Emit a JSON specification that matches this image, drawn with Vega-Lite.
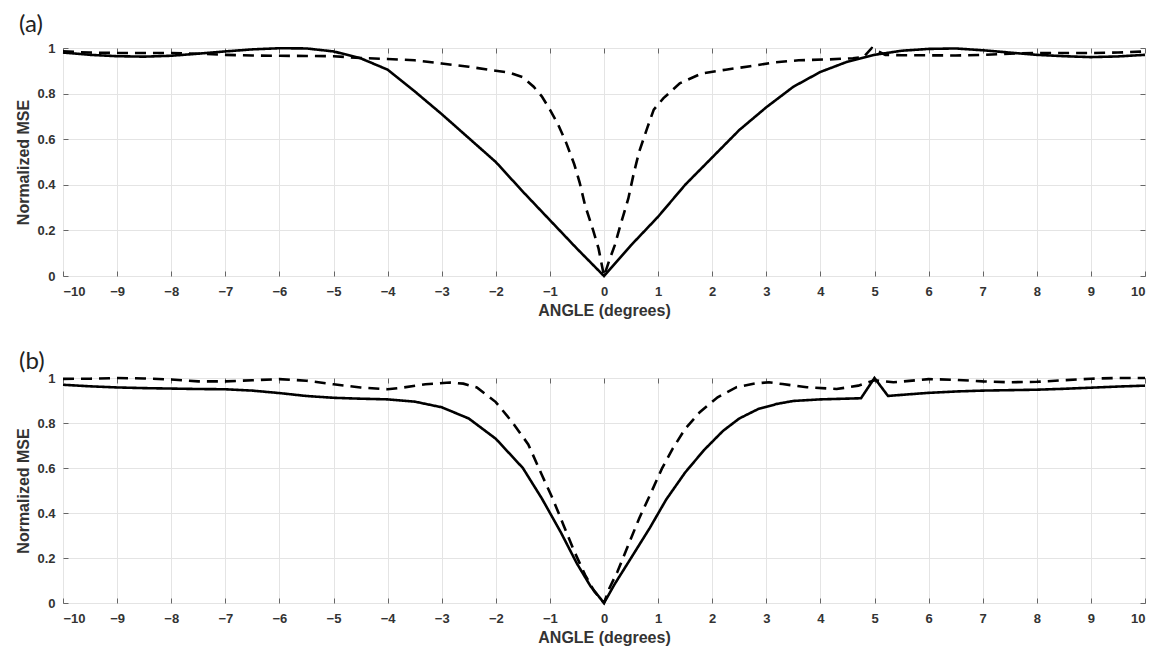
{
  "$schema": "https://vega.github.io/schema/vega-lite/v6.json",
  "background": "white",
  "padding": {"left": 15, "top": 12, "right": 5, "bottom": 3},
  "config": {
    "view": {"stroke": "#555", "strokeWidth": 1},
    "axis": {
      "labelFont": "Liberation Sans", "labelFontWeight": "bold", "labelFontSize": 13, "labelColor": "#333",
      "titleFont": "Liberation Sans", "titleFontWeight": "bold", "titleFontSize": 16, "titleColor": "#333",
      "gridColor": "#e4e4e4", "gridWidth": 1, "domain": false, "tickColor": "#666", "tickSize": -5
    },
    "title": {"font": "Lato", "fontSize": 24, "fontWeight": "normal", "color": "#222", "anchor": "start", "frame": "group"}
  },
  "datasets": {
    "a": [
      {"angle": -10, "mse": 0.98, "series": "solid"}, {"angle": -9.5, "mse": 0.97, "series": "solid"}, {"angle": -9, "mse": 0.964, "series": "solid"}, {"angle": -8.5, "mse": 0.962, "series": "solid"}, {"angle": -8, "mse": 0.966, "series": "solid"}, {"angle": -7.5, "mse": 0.975, "series": "solid"}, {"angle": -7, "mse": 0.985, "series": "solid"}, {"angle": -6.5, "mse": 0.994, "series": "solid"}, {"angle": -6, "mse": 0.999, "series": "solid"}, {"angle": -5.5, "mse": 0.998, "series": "solid"}, {"angle": -5, "mse": 0.985, "series": "solid"}, {"angle": -4.5, "mse": 0.955, "series": "solid"}, {"angle": -4, "mse": 0.905, "series": "solid"}, {"angle": -3.5, "mse": 0.81, "series": "solid"}, {"angle": -3, "mse": 0.71, "series": "solid"}, {"angle": -2.5, "mse": 0.605, "series": "solid"}, {"angle": -2, "mse": 0.5, "series": "solid"}, {"angle": -1.5, "mse": 0.37, "series": "solid"}, {"angle": -1, "mse": 0.245, "series": "solid"}, {"angle": -0.5, "mse": 0.12, "series": "solid"}, {"angle": 0, "mse": 0.0, "series": "solid"}, {"angle": 0.5, "mse": 0.135, "series": "solid"}, {"angle": 1, "mse": 0.26, "series": "solid"}, {"angle": 1.5, "mse": 0.4, "series": "solid"}, {"angle": 2, "mse": 0.52, "series": "solid"}, {"angle": 2.5, "mse": 0.64, "series": "solid"}, {"angle": 3, "mse": 0.74, "series": "solid"}, {"angle": 3.5, "mse": 0.83, "series": "solid"}, {"angle": 4, "mse": 0.895, "series": "solid"}, {"angle": 4.5, "mse": 0.94, "series": "solid"}, {"angle": 5, "mse": 0.97, "series": "solid"}, {"angle": 5.5, "mse": 0.988, "series": "solid"}, {"angle": 6, "mse": 0.996, "series": "solid"}, {"angle": 6.5, "mse": 0.998, "series": "solid"}, {"angle": 7, "mse": 0.99, "series": "solid"}, {"angle": 7.5, "mse": 0.98, "series": "solid"}, {"angle": 8, "mse": 0.97, "series": "solid"}, {"angle": 8.5, "mse": 0.964, "series": "solid"}, {"angle": 9, "mse": 0.96, "series": "solid"}, {"angle": 9.5, "mse": 0.963, "series": "solid"}, {"angle": 10, "mse": 0.97, "series": "solid"},
      {"angle": -10, "mse": 0.985, "series": "dashed"}, {"angle": -9.5, "mse": 0.98, "series": "dashed"}, {"angle": -9, "mse": 0.978, "series": "dashed"}, {"angle": -8.5, "mse": 0.978, "series": "dashed"}, {"angle": -8, "mse": 0.978, "series": "dashed"}, {"angle": -7.5, "mse": 0.975, "series": "dashed"}, {"angle": -7, "mse": 0.97, "series": "dashed"}, {"angle": -6.5, "mse": 0.967, "series": "dashed"}, {"angle": -6, "mse": 0.966, "series": "dashed"}, {"angle": -5.5, "mse": 0.965, "series": "dashed"}, {"angle": -5, "mse": 0.964, "series": "dashed"}, {"angle": -4.5, "mse": 0.956, "series": "dashed"}, {"angle": -4, "mse": 0.952, "series": "dashed"}, {"angle": -3.5, "mse": 0.946, "series": "dashed"}, {"angle": -3, "mse": 0.932, "series": "dashed"}, {"angle": -2.5, "mse": 0.918, "series": "dashed"}, {"angle": -2, "mse": 0.9, "series": "dashed"}, {"angle": -1.75, "mse": 0.892, "series": "dashed"}, {"angle": -1.5, "mse": 0.872, "series": "dashed"}, {"angle": -1.3, "mse": 0.83, "series": "dashed"}, {"angle": -1.15, "mse": 0.788, "series": "dashed"}, {"angle": -1, "mse": 0.73, "series": "dashed"}, {"angle": -0.85, "mse": 0.665, "series": "dashed"}, {"angle": -0.7, "mse": 0.585, "series": "dashed"}, {"angle": -0.55, "mse": 0.49, "series": "dashed"}, {"angle": -0.45, "mse": 0.41, "series": "dashed"}, {"angle": -0.35, "mse": 0.31, "series": "dashed"}, {"angle": -0.2, "mse": 0.2, "series": "dashed"}, {"angle": -0.1, "mse": 0.12, "series": "dashed"}, {"angle": 0, "mse": 0.0, "series": "dashed"}, {"angle": 0.1, "mse": 0.07, "series": "dashed"}, {"angle": 0.2, "mse": 0.135, "series": "dashed"}, {"angle": 0.3, "mse": 0.22, "series": "dashed"}, {"angle": 0.45, "mse": 0.34, "series": "dashed"}, {"angle": 0.55, "mse": 0.45, "series": "dashed"}, {"angle": 0.65, "mse": 0.545, "series": "dashed"}, {"angle": 0.8, "mse": 0.65, "series": "dashed"}, {"angle": 0.92, "mse": 0.73, "series": "dashed"}, {"angle": 1.1, "mse": 0.78, "series": "dashed"}, {"angle": 1.4, "mse": 0.845, "series": "dashed"}, {"angle": 1.8, "mse": 0.888, "series": "dashed"}, {"angle": 2.25, "mse": 0.905, "series": "dashed"}, {"angle": 2.7, "mse": 0.92, "series": "dashed"}, {"angle": 3.15, "mse": 0.937, "series": "dashed"}, {"angle": 3.6, "mse": 0.946, "series": "dashed"}, {"angle": 4.15, "mse": 0.95, "series": "dashed"}, {"angle": 4.6, "mse": 0.955, "series": "dashed"}, {"angle": 4.8, "mse": 0.96, "series": "dashed"}, {"angle": 4.95, "mse": 1.0, "series": "dashed"}, {"angle": 5.2, "mse": 0.97, "series": "dashed"}, {"angle": 5.5, "mse": 0.968, "series": "dashed"}, {"angle": 6, "mse": 0.968, "series": "dashed"}, {"angle": 6.5, "mse": 0.967, "series": "dashed"}, {"angle": 7, "mse": 0.97, "series": "dashed"}, {"angle": 7.5, "mse": 0.975, "series": "dashed"}, {"angle": 8, "mse": 0.978, "series": "dashed"}, {"angle": 8.5, "mse": 0.978, "series": "dashed"}, {"angle": 9, "mse": 0.978, "series": "dashed"}, {"angle": 9.5, "mse": 0.98, "series": "dashed"}, {"angle": 10, "mse": 0.985, "series": "dashed"}
    ],
    "b": [
      {"angle": -10, "mse": 0.97, "series": "solid"}, {"angle": -9.5, "mse": 0.963, "series": "solid"}, {"angle": -9, "mse": 0.958, "series": "solid"}, {"angle": -8.5, "mse": 0.955, "series": "solid"}, {"angle": -8, "mse": 0.953, "series": "solid"}, {"angle": -7.5, "mse": 0.951, "series": "solid"}, {"angle": -7, "mse": 0.95, "series": "solid"}, {"angle": -6.5, "mse": 0.944, "series": "solid"}, {"angle": -6, "mse": 0.933, "series": "solid"}, {"angle": -5.5, "mse": 0.92, "series": "solid"}, {"angle": -5, "mse": 0.912, "series": "solid"}, {"angle": -4.5, "mse": 0.908, "series": "solid"}, {"angle": -4, "mse": 0.905, "series": "solid"}, {"angle": -3.5, "mse": 0.895, "series": "solid"}, {"angle": -3, "mse": 0.87, "series": "solid"}, {"angle": -2.5, "mse": 0.82, "series": "solid"}, {"angle": -2, "mse": 0.73, "series": "solid"}, {"angle": -1.5, "mse": 0.6, "series": "solid"}, {"angle": -1.15, "mse": 0.465, "series": "solid"}, {"angle": -0.8, "mse": 0.315, "series": "solid"}, {"angle": -0.5, "mse": 0.175, "series": "solid"}, {"angle": -0.25, "mse": 0.075, "series": "solid"}, {"angle": 0, "mse": 0.0, "series": "solid"}, {"angle": 0.2, "mse": 0.085, "series": "solid"}, {"angle": 0.5, "mse": 0.2, "series": "solid"}, {"angle": 0.85, "mse": 0.335, "series": "solid"}, {"angle": 1.15, "mse": 0.46, "series": "solid"}, {"angle": 1.5, "mse": 0.58, "series": "solid"}, {"angle": 1.85, "mse": 0.68, "series": "solid"}, {"angle": 2.2, "mse": 0.765, "series": "solid"}, {"angle": 2.5, "mse": 0.82, "series": "solid"}, {"angle": 2.85, "mse": 0.862, "series": "solid"}, {"angle": 3.2, "mse": 0.885, "series": "solid"}, {"angle": 3.5, "mse": 0.898, "series": "solid"}, {"angle": 4, "mse": 0.905, "series": "solid"}, {"angle": 4.75, "mse": 0.91, "series": "solid"}, {"angle": 5, "mse": 1.0, "series": "solid"}, {"angle": 5.25, "mse": 0.92, "series": "solid"}, {"angle": 5.5, "mse": 0.925, "series": "solid"}, {"angle": 6, "mse": 0.934, "series": "solid"}, {"angle": 6.5, "mse": 0.94, "series": "solid"}, {"angle": 7, "mse": 0.944, "series": "solid"}, {"angle": 7.5, "mse": 0.946, "series": "solid"}, {"angle": 8, "mse": 0.948, "series": "solid"}, {"angle": 8.5, "mse": 0.952, "series": "solid"}, {"angle": 9, "mse": 0.957, "series": "solid"}, {"angle": 9.5, "mse": 0.962, "series": "solid"}, {"angle": 10, "mse": 0.966, "series": "solid"},
      {"angle": -10, "mse": 0.996, "series": "dashed"}, {"angle": -9.5, "mse": 0.997, "series": "dashed"}, {"angle": -9, "mse": 1.0, "series": "dashed"}, {"angle": -8.5, "mse": 0.998, "series": "dashed"}, {"angle": -8, "mse": 0.993, "series": "dashed"}, {"angle": -7.5, "mse": 0.985, "series": "dashed"}, {"angle": -7, "mse": 0.985, "series": "dashed"}, {"angle": -6.5, "mse": 0.99, "series": "dashed"}, {"angle": -6, "mse": 0.995, "series": "dashed"}, {"angle": -5.5, "mse": 0.988, "series": "dashed"}, {"angle": -5, "mse": 0.972, "series": "dashed"}, {"angle": -4.5, "mse": 0.958, "series": "dashed"}, {"angle": -4, "mse": 0.95, "series": "dashed"}, {"angle": -3.7, "mse": 0.958, "series": "dashed"}, {"angle": -3.3, "mse": 0.972, "series": "dashed"}, {"angle": -2.85, "mse": 0.98, "series": "dashed"}, {"angle": -2.6, "mse": 0.975, "series": "dashed"}, {"angle": -2.35, "mse": 0.958, "series": "dashed"}, {"angle": -2, "mse": 0.893, "series": "dashed"}, {"angle": -1.7, "mse": 0.805, "series": "dashed"}, {"angle": -1.4, "mse": 0.705, "series": "dashed"}, {"angle": -1.15, "mse": 0.57, "series": "dashed"}, {"angle": -0.95, "mse": 0.465, "series": "dashed"}, {"angle": -0.75, "mse": 0.347, "series": "dashed"}, {"angle": -0.55, "mse": 0.23, "series": "dashed"}, {"angle": -0.35, "mse": 0.125, "series": "dashed"}, {"angle": -0.18, "mse": 0.052, "series": "dashed"}, {"angle": 0, "mse": 0.0, "series": "dashed"}, {"angle": 0.1, "mse": 0.066, "series": "dashed"}, {"angle": 0.25, "mse": 0.14, "series": "dashed"}, {"angle": 0.45, "mse": 0.258, "series": "dashed"}, {"angle": 0.65, "mse": 0.376, "series": "dashed"}, {"angle": 0.85, "mse": 0.48, "series": "dashed"}, {"angle": 1.07, "mse": 0.597, "series": "dashed"}, {"angle": 1.27, "mse": 0.686, "series": "dashed"}, {"angle": 1.5, "mse": 0.774, "series": "dashed"}, {"angle": 1.77, "mse": 0.848, "series": "dashed"}, {"angle": 2.1, "mse": 0.914, "series": "dashed"}, {"angle": 2.45, "mse": 0.959, "series": "dashed"}, {"angle": 2.8, "mse": 0.976, "series": "dashed"}, {"angle": 3.05, "mse": 0.981, "series": "dashed"}, {"angle": 3.3, "mse": 0.973, "series": "dashed"}, {"angle": 3.75, "mse": 0.959, "series": "dashed"}, {"angle": 4.3, "mse": 0.951, "series": "dashed"}, {"angle": 4.7, "mse": 0.966, "series": "dashed"}, {"angle": 5, "mse": 0.99, "series": "dashed"}, {"angle": 5.35, "mse": 0.981, "series": "dashed"}, {"angle": 6, "mse": 0.995, "series": "dashed"}, {"angle": 6.5, "mse": 0.992, "series": "dashed"}, {"angle": 7, "mse": 0.985, "series": "dashed"}, {"angle": 7.5, "mse": 0.981, "series": "dashed"}, {"angle": 8, "mse": 0.983, "series": "dashed"}, {"angle": 8.5, "mse": 0.99, "series": "dashed"}, {"angle": 9, "mse": 0.997, "series": "dashed"}, {"angle": 9.5, "mse": 1.0, "series": "dashed"}, {"angle": 10, "mse": 1.0, "series": "dashed"}
    ]
  },
  "spacing": 30,
  "vconcat": [
    {
      "title": {"text": "(a)", "dx": -44, "offset": 5},
      "width": 1082,
      "height": 228,
      "data": {"name": "a"},
      "resolve": {"axis": {"x": "independent", "y": "independent"}},
      "layer": [
        {
          "mark": {"type": "line", "color": "black", "strokeWidth": 2.6},
          "encoding": {
            "x": {"field": "angle", "type": "quantitative", "scale": {"domain": [-10, 10], "nice": false}, "axis": {"orient": "bottom", "values": [-10,-9,-8,-7,-6,-5,-4,-3,-2,-1,0,1,2,3,4,5,6,7,8,9,10], "labelPadding": 14, "title": "ANGLE (degrees)", "titlePadding": 4}},
            "y": {"field": "mse", "type": "quantitative", "scale": {"domain": [0, 1], "nice": false}, "axis": {"orient": "left", "values": [0, 0.2, 0.4, 0.6, 0.8, 1], "format": "~g", "labelPadding": 13, "title": "Normalized MSE", "titlePadding": 5}},
            "strokeDash": {"field": "series", "type": "nominal", "scale": {"domain": ["solid", "dashed"], "range": [[1, 0], [11, 7]]}, "legend": null}
          }
        },
        {
          "mark": {"type": "point", "opacity": 0},
          "encoding": {
            "x": {"field": "angle", "type": "quantitative", "axis": {"orient": "top", "values": [-10,-9,-8,-7,-6,-5,-4,-3,-2,-1,0,1,2,3,4,5,6,7,8,9,10], "labels": false, "grid": false, "title": null}},
            "y": {"field": "mse", "type": "quantitative", "axis": {"orient": "right", "values": [0, 0.2, 0.4, 0.6, 0.8, 1], "labels": false, "grid": false, "title": null}}
          }
        }
      ]
    },
    {
      "title": {"text": "(b)", "dx": -44, "offset": -2},
      "width": 1082,
      "height": 225,
      "data": {"name": "b"},
      "resolve": {"axis": {"x": "independent", "y": "independent"}},
      "layer": [
        {
          "mark": {"type": "line", "color": "black", "strokeWidth": 2.6},
          "encoding": {
            "x": {"field": "angle", "type": "quantitative", "scale": {"domain": [-10, 10], "nice": false}, "axis": {"orient": "bottom", "values": [-10,-9,-8,-7,-6,-5,-4,-3,-2,-1,0,1,2,3,4,5,6,7,8,9,10], "labelPadding": 14, "title": "ANGLE (degrees)", "titlePadding": 4}},
            "y": {"field": "mse", "type": "quantitative", "scale": {"domain": [0, 1], "nice": false}, "axis": {"orient": "left", "values": [0, 0.2, 0.4, 0.6, 0.8, 1], "format": "~g", "labelPadding": 13, "title": "Normalized MSE", "titlePadding": 5}},
            "strokeDash": {"field": "series", "type": "nominal", "scale": {"domain": ["solid", "dashed"], "range": [[1, 0], [11, 7]]}, "legend": null}
          }
        },
        {
          "mark": {"type": "point", "opacity": 0},
          "encoding": {
            "x": {"field": "angle", "type": "quantitative", "axis": {"orient": "top", "values": [-10,-9,-8,-7,-6,-5,-4,-3,-2,-1,0,1,2,3,4,5,6,7,8,9,10], "labels": false, "grid": false, "title": null}},
            "y": {"field": "mse", "type": "quantitative", "axis": {"orient": "right", "values": [0, 0.2, 0.4, 0.6, 0.8, 1], "labels": false, "grid": false, "title": null}}
          }
        }
      ]
    }
  ]
}
